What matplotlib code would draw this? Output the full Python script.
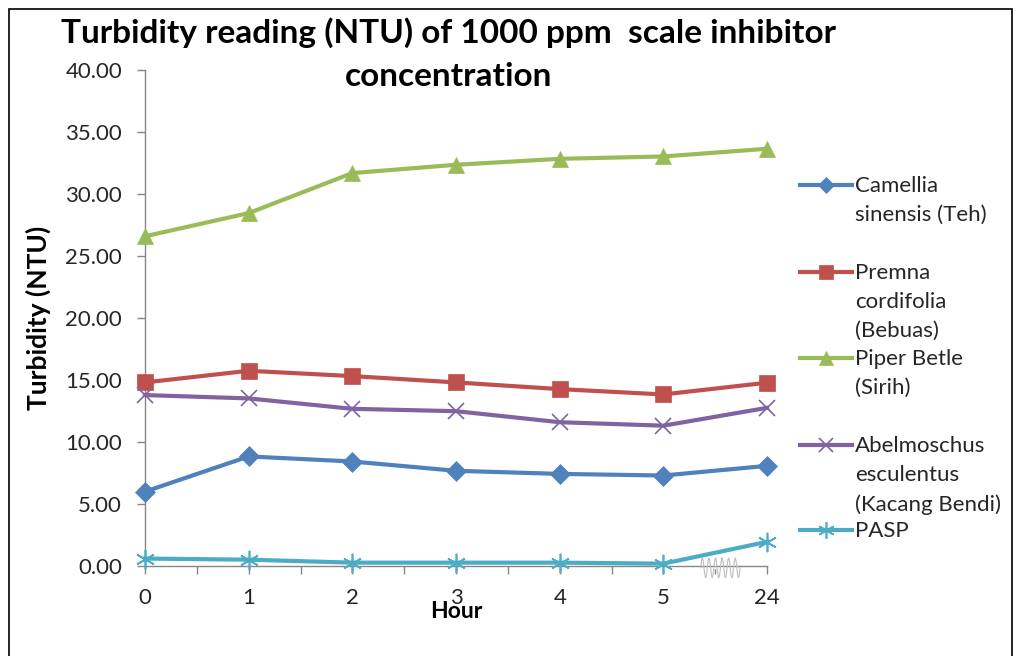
import numpy as np
import matplotlib
matplotlib.use("Agg")
import matplotlib.pyplot as plt
from matplotlib.lines import Line2D
from matplotlib.patches import Rectangle

# --- DATA ---
hours = ["0", "1", "2", "3", "4", "5", "24"]
camellia = [6.00, 8.84, 8.43, 7.68, 7.43, 7.30, 8.08]
premna = [14.81, 15.75, 15.32, 14.81, 14.27, 13.84, 14.79]
piper = [26.60, 28.47, 31.70, 32.37, 32.85, 33.04, 33.66]
abelmoschus = [13.79, 13.52, 12.68, 12.49, 11.60, 11.32, 12.76]
pasp = [0.60, 0.51, 0.27, 0.27, 0.27, 0.19, 1.95]

labels = ["Camellia\nsinensis (Teh)", "Premna\ncordifolia\n(Bebuas)",
          "Piper Betle\n(Sirih)", "Abelmoschus\nesculentus\n(Kacang Bendi)", "PASP"]

# --- STYLE ---
plt.rcParams['font.family'] = ['Lato', 'DejaVu Sans']
colors = ["#4F81BD", "#C0504D", "#9BBB59", "#8064A2", "#4BACC6"]
markers = ["D", "s", "^", "x", (6, 2, 0)]
msizes = [10, 12, 12, 12, 14]
axis_grey = "#868686"
text_col = "#262626"

fig = plt.figure(figsize=(10.16, 6.56), dpi=100)
ax = fig.add_axes([0.1427, 0.1372, 0.755 - 0.1427, 0.893 - 0.1372])

x = np.arange(len(hours))
series = [camellia, premna, piper, abelmoschus, pasp]
lines = []
for vals, c, m, ms in zip(series, colors, markers, msizes):
    thin = m in ("x",) or isinstance(m, tuple)
    ln, = ax.plot(x, vals, color=c, lw=3, marker=m, markersize=ms,
                  markeredgewidth=1.2 if thin else 0.5, markeredgecolor=c,
                  markerfacecolor=c, clip_on=False, zorder=3)
    lines.append(ln)

ax.set_xlim(0, len(hours) - 1)
ax.set_ylim(0, 40)
ax.set_yticks(np.arange(0, 40.01, 5))
ax.set_yticklabels([f"{v:.2f}" for v in np.arange(0, 40.01, 5)])
ax.set_xticks(x)
ax.set_xticklabels(hours)
ax.set_xticks(np.arange(0.5, len(hours) - 1, 1), minor=True)

for s in ["top", "right"]:
    ax.spines[s].set_visible(False)
for s in ["left", "bottom"]:
    ax.spines[s].set_color(axis_grey)
    ax.spines[s].set_linewidth(1)
ax.tick_params(axis="both", which="both", color=axis_grey, length=5.5, width=1,
               labelsize=16, labelcolor=text_col)
ax.tick_params(axis="x", pad=10)
ax.tick_params(axis="y", pad=11)

ax.set_xlabel("Hour", fontsize=16.5, fontweight="bold", labelpad=-5)
ax.set_ylabel("Turbidity (NTU)", fontsize=19, fontweight="bold", labelpad=10)

fig.text(0.4415, 0.95, "Turbidity reading (NTU) of 1000 ppm  scale inhibitor",
         ha="center", va="center", fontsize=24, fontweight="bold")
fig.text(0.4415, 0.883, "concentration",
         ha="center", va="center", fontsize=24, fontweight="bold")

# axis break symbol between 5 and 24
bx = np.linspace(5.36, 5.74, 80)
by = -0.15 + 0.8 * np.sin((bx - 5.36) / 0.38 * 2 * np.pi * 6)
ax.add_patch(Rectangle((5.33, -0.15), 0.44, 0.3, color="white", zorder=2.5, clip_on=False))
ax.plot(bx, by, color="#BFBFBF", lw=0.8, clip_on=False, zorder=2.6)

# legend drawn manually (handle aligned to first text line, like Excel)
W, H = 1016, 656
leg_y = [185, 272, 358, 445, 530]
for ln, lab, yy in zip(lines, labels, leg_y):
    yf = 1 - yy / H
    fig.add_artist(Line2D([800 / W, 852 / W], [yf, yf], color=ln.get_color(), lw=3))
    fig.add_artist(Line2D([826 / W], [yf], marker=ln.get_marker(), color=ln.get_color(),
                          markersize=ln.get_markersize() * 0.85,
                          markeredgewidth=ln.get_markeredgewidth(), lw=0))
    fig.text(855 / W, yf + 9 / H, lab, ha="left", va="top", fontsize=16,
             linespacing=1.55, color=text_col)

# outer frame
fig.add_artist(Rectangle((9 / W, -0.05), (1012 - 9) / W, 1.05 - 9 / H,
                         fill=False, edgecolor="black", lw=1.2,
                         transform=fig.transFigure))

fig.savefig("out.png", dpi=100)
